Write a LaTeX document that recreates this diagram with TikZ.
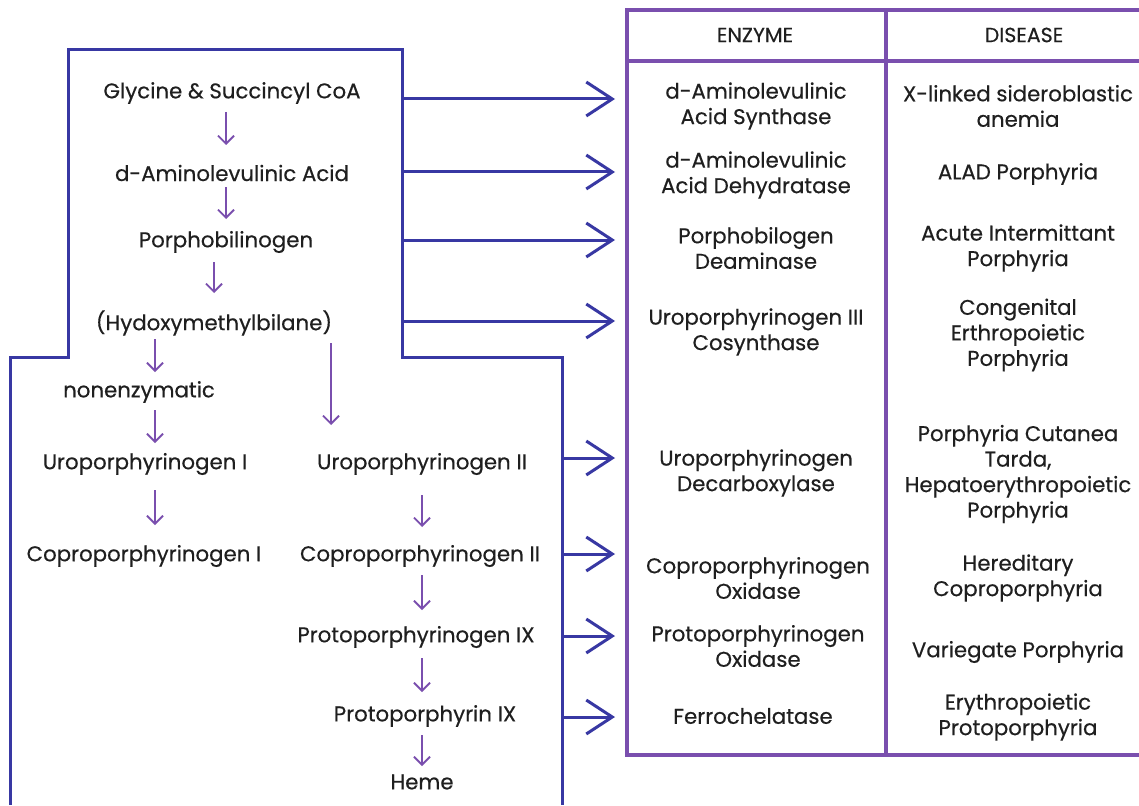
\documentclass[tikz,border=0pt]{standalone}
\usepackage{fontspec}
\setmainfont{Poppins}[FakeBold=0.4]
\usetikzlibrary{arrows.meta}
\definecolor{navy}{HTML}{3838A3}
\definecolor{purp}{HTML}{7A4FAE}
\begin{document}
\begin{tikzpicture}[x=1pt,y=-1pt,
  txt/.style={align=center,font=\fontsize{21.3}{25.5}\selectfont,inner sep=0pt,text=black!88,yshift=-2pt},
  hdr/.style={font=\fontsize{20.5}{24}\selectfont,inner sep=0pt,text=black!88},
  parr/.style={draw=purp,line width=1.8pt,-{Straight Barb[length=8pt,width=16pt,line width=1.8pt]}},
  barr/.style={draw=navy,line width=3pt,-{Straight Barb[length=26pt,width=34pt,line width=3pt]}},
  outline/.style={draw=navy,line width=3pt},
  grid/.style={draw=purp,line width=4.5pt}]
\useasboundingbox (0,0) rectangle (1139,805);
\fill[white] (0,0) rectangle (1139,805);

% blue outline
\draw[outline] (10,805) -- (10,357) -- (68,357) -- (68,50) -- (402,50) -- (402,357) -- (562,357) -- (562,805);

% pathway nodes
\node[txt] (g) at (232,91) {Glycine \& Succincyl CoA};
\node[txt] (ala) at (232,171) {d-Aminolevulinic Acid};
\node[txt] (pbg) at (226,240) {Porphobilinogen};
\node[txt] (hmb) at (214,321) {(Hydoxymethylbilane)};
\node[txt] (non) at (139,390) {nonenzymatic};
\node[txt] (u1) at (145,462) {Uroporphyrinogen I};
\node[txt] (c1) at (144,554) {Coproporphyrinogen I};
\node[txt] (u2) at (422,462) {Uroporphyrinogen II};
\node[txt] (c2) at (420,554) {Coproporphyrinogen II};
\node[txt] (p9) at (416,635) {Protoporphyrinogen IX};
\node[txt] (pp9) at (425,714) {Protoporphyrin IX};
\node[txt] (heme) at (422,780) {Heme};

% purple arrow ends
\coordinate (a1s) at (226,112); \coordinate (a1e) at (226,145);
\coordinate (a2s) at (226,187); \coordinate (a2e) at (226,219);
\coordinate (a3s) at (214,262); \coordinate (a3e) at (214,293);
\coordinate (a4s) at (155,339); \coordinate (a4e) at (155,372);
\coordinate (a5s) at (331,343); \coordinate (a5e) at (331,425);
\coordinate (a6s) at (155,410); \coordinate (a6e) at (155,443);
\coordinate (a7s) at (155,490); \coordinate (a7e) at (155,525);
\coordinate (a8s) at (422,495); \coordinate (a8e) at (422,527);
\coordinate (a9s) at (422,575); \coordinate (a9e) at (422,610);
\coordinate (a10s) at (422,658); \coordinate (a10e) at (422,692);
\coordinate (a11s) at (422,735); \coordinate (a11e) at (422,766);
\foreach \i in {1,...,11} \draw[parr] (a\i s) -- (a\i e);

% table
\draw[grid] (1145,10) -- (627,10) -- (627,755) -- (1145,755);
\draw[grid] (627,61) -- (1145,61);
\draw[grid] (886,10) -- (886,755);
\node[hdr] (he) at (755,35) {ENZYME};
\node[hdr] (hd) at (1024,35) {DISEASE};

\node[txt] (e1) at (756,104) {d-Aminolevulinic\\Acid Synthase};
\node[txt] (e2) at (756,173) {d-Aminolevulinic\\Acid Dehydratase};
\node[txt] (e3) at (756,246) {Porphobilogen\\Deaminase};
\node[txt] (e4) at (756,330) {Uroporphyrinogen III\\Cosynthase};
\node[txt] (e5) at (756,471) {Uroporphyrinogen\\Decarboxylase};
\node[txt] (e6) at (758,576) {Coproporphyrinogen\\Oxidase};
\node[txt] (e7) at (758,644) {Protoporphyrinogen\\Oxidase};
\node[txt] (e8) at (753,714) {Ferrochelatase};

\node[txt] (d1) at (1018,104) {X-linked sideroblastic\\anemia};
\node[txt] (d2) at (1018,172) {ALAD Porphyria};
\node[txt] (d3) at (1018,246) {Acute Intermittant\\Porphyria};
\node[txt] (d4) at (1018,333) {Congenital\\Erthropoietic\\Porphyria};
\node[txt] (d5) at (1018,472) {Porphyria Cutanea\\Tarda,\\Hepatoerythropoietic\\Porphyria};
\node[txt] (d6) at (1018,576) {Hereditary\\Coproporphyria};
\node[txt] (d7) at (1018,650) {Variegate Porphyria};
\node[txt] (d8) at (1018,715) {Erythropoietic\\Protoporphyria};

% blue arrows
\coordinate (b1) at (402,99);  \coordinate (t1) at (615,99);
\coordinate (b2) at (402,172); \coordinate (t2) at (615,172);
\coordinate (b3) at (402,240); \coordinate (t3) at (615,240);
\coordinate (b4) at (402,321); \coordinate (t4) at (615,321);
\coordinate (b5) at (562,458); \coordinate (t5) at (615,458);
\coordinate (b6) at (562,554); \coordinate (t6) at (615,554);
\coordinate (b7) at (562,636); \coordinate (t7) at (615,636);
\coordinate (b8) at (562,717); \coordinate (t8) at (615,717);
\foreach \i in {1,...,8} \draw[barr] (b\i) -- (t\i);
\end{tikzpicture}
\end{document}
